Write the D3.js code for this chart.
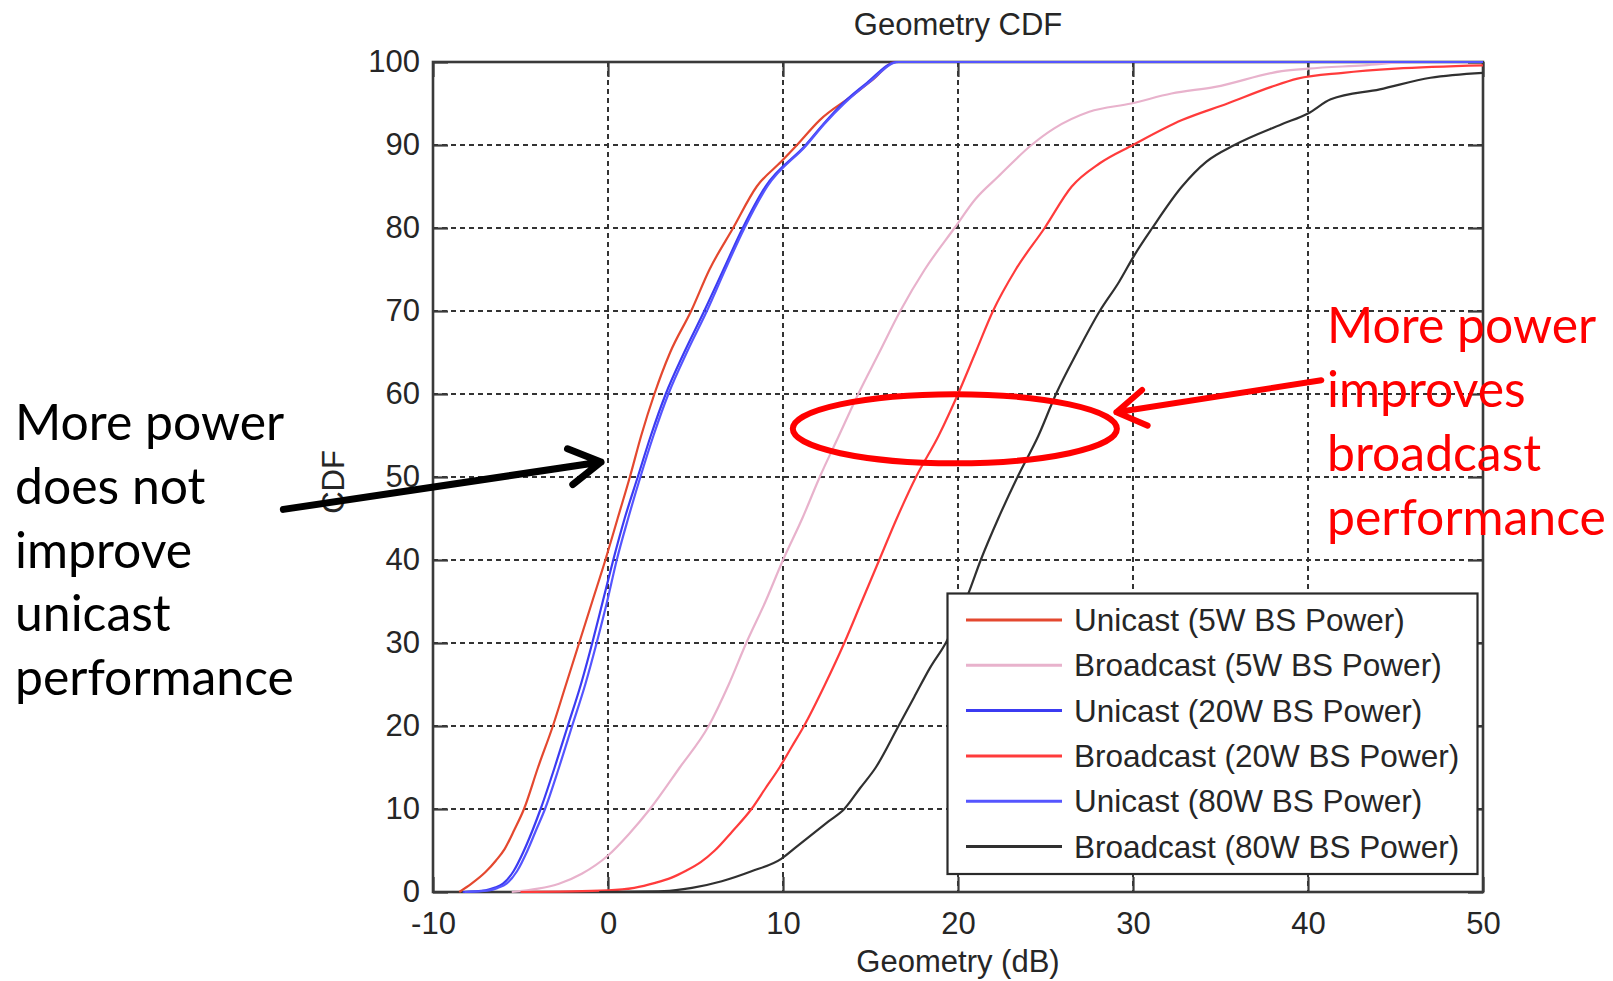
<!DOCTYPE html>
<html><head><meta charset="utf-8">
<script src="https://cdn.jsdelivr.net/npm/d3@7"></script>
<style>
html,body{margin:0;padding:0;background:#fff;}
svg{display:block;}
</style></head>
<body>
<svg id="chart" width="1613" height="981"></svg>
<script>
// ---------------- DATA ----------------
const xTicks = [-10, 0, 10, 20, 30, 40, 50];
const yTicks = [0, 10, 20, 30, 40, 50, 60, 70, 80, 90, 100];
const seriesNames = [
  "Unicast (5W BS Power)",
  "Broadcast (5W BS Power)",
  "Unicast (20W BS Power)",
  "Broadcast (20W BS Power)",
  "Unicast (80W BS Power)",
  "Broadcast (80W BS Power)"
];
// [Geometry dB, CDF %]
const unicast5W = [[-8.5,0],[-7.8,1],[-7.0,2.4],[-6.4,3.8],[-5.9,5.2],[-5.35,7.5],[-4.8,10],[-4.0,15],[-3.15,20],[-2.4,25],[-1.65,30],[-0.9,35],[-0.15,40],[0.55,45],[1.25,50],[1.9,55],[2.65,60],[3.55,65],[4.75,70],[5.8,75],[7.15,80],[8.5,85],[9.9,88],[10.8,90],[12.1,93],[14.0,96],[15.2,98],[16.4,100],[50,100]];
const broadcast5W = [[-5.5,0],[-4,0.4],[-2.8,1],[-1.5,2.2],[0,4.4],[1.2,7],[2.4,10],[4.1,15],[5.75,20],[6.9,25],[7.9,30],[9.0,35],[10.0,40],[11.1,45],[12.1,50],[13.2,55],[14.3,60],[15.5,65],[16.7,70],[18.1,75],[19.8,80],[21.0,83.5],[22.3,86.2],[24.2,90],[25.5,92],[27.5,94],[29.9,95],[32.2,96.2],[34.7,97],[38.5,98.9],[40,99.2],[43.2,99.6],[46,100],[50,100]];
const unicast20W = [[-8.3,0],[-7.0,0.2],[-6.5,0.5],[-6.0,1],[-5.4,2.5],[-4.8,5],[-4.3,7.5],[-3.85,10],[-3.05,15],[-2.3,20],[-1.55,25],[-0.9,30],[-0.3,35],[0.3,40],[0.95,45],[1.7,50],[2.45,55],[3.3,60],[4.35,65],[5.5,70],[6.6,75],[7.7,80],[9.0,85],[11.3,90],[12.3,92.5],[13.4,95],[14.8,97.5],[16.5,100],[50,100]];
const broadcast20W = [[-5,0],[0,0.2],[1.5,0.5],[2.7,1.1],[3.6,1.7],[4.4,2.5],[5.3,3.6],[6.1,5],[7.1,7.3],[8.2,10],[9.0,12.5],[9.8,15],[10.5,17.5],[11.2,20],[12.4,25],[13.5,30],[14.5,35],[15.5,40],[16.5,45],[17.6,50],[18.9,55],[20.0,60],[21.0,65],[22.0,70],[23.3,75],[24.95,80],[26.5,85],[28.1,87.8],[30,90],[32.8,93],[35.4,95],[37.9,97],[39.4,98],[42,98.7],[45,99.2],[50,99.6]];
const unicast80W = [[-8.2,0],[-6.8,0.2],[-6.3,0.5],[-5.8,1],[-5.2,2.5],[-4.6,5],[-4.1,7.5],[-3.6,10],[-2.8,15],[-2.05,20],[-1.3,25],[-0.65,30],[-0.05,35],[0.5,40],[1.15,45],[1.85,50],[2.6,55],[3.45,60],[4.5,65],[5.65,70],[6.7,75],[7.8,80],[9.1,85],[11.35,90],[12.35,92.5],[13.5,95],[14.9,97.5],[16.6,100],[50,100]];
const broadcast80W = [[-0.5,0],[3.2,0.1],[4.8,0.5],[6.5,1.3],[8.2,2.5],[9.9,4],[10.8,5.5],[11.7,7],[12.6,8.5],[13.5,10],[14.4,12.5],[15.3,15],[16.6,20],[17.5,23.5],[18.4,27],[19.3,30],[20.0,33],[20.6,36],[21.3,40],[22.3,45],[23.4,50],[24.6,55],[25.6,60],[26.8,65],[28.1,70],[29.2,73.5],[30.1,76.8],[31.1,80],[32.8,85],[34.2,88],[35.8,90],[38.5,92.5],[40,93.8],[41.3,95.5],[44.1,96.7],[47,98.1],[50,98.7]];
const seriesData = [unicast5W, broadcast5W, unicast20W, broadcast20W, unicast80W, broadcast80W];
const seriesColors = ["#e4482f", "#e8b2cc", "#3b3bf2", "#ff3b3b", "#5555ff", "#303030"];

const titleText = "Geometry CDF";
const xLabelText = "Geometry (dB)";
const yLabelText = "CDF";
const leftNote = ["More power", "does not", "improve", "unicast", "performance"];
const rightNote = ["More power", "improves", "broadcast", "performance"];

// ---------------- LAYOUT ----------------
const svg = d3.select("#chart");
const plot = {left: 433, right: 1483, top: 62, bottom: 892};
const x = d3.scaleLinear().domain([-10, 50]).range([plot.left, plot.right]);
const y = d3.scaleLinear().domain([0, 100]).range([plot.bottom, plot.top]);
const axisFont = "'Liberation Sans', Arial, Helvetica, sans-serif";
const textCol = "#262626";
const fs = 31;

svg.append("rect").attr("width", 1613).attr("height", 981).attr("fill", "#fff");

// grid
const grid = svg.append("g");
grid.selectAll("line.gx").data(xTicks.slice(1, -1)).enter().append("line")
  .attr("x1", d => x(d)).attr("x2", d => x(d))
  .attr("y1", plot.top).attr("y2", plot.bottom)
  .attr("stroke", "#333").attr("stroke-width", 2).attr("stroke-dasharray", "5,4");
grid.selectAll("line.gy").data(yTicks.slice(1, -1)).enter().append("line")
  .attr("y1", d => y(d)).attr("y2", d => y(d))
  .attr("x1", plot.left).attr("x2", plot.right)
  .attr("stroke", "#333").attr("stroke-width", 2).attr("stroke-dasharray", "5,4");

// axes
const tickLen = 15;
const fmt = d => String(d);
function styleAxis(g) {
  g.select(".domain").remove();
  g.selectAll(".tick line").attr("stroke", "#3a3a3a").attr("stroke-width", 2.2);
  g.selectAll(".tick text").attr("fill", textCol).style("font-family", axisFont).style("font-size", fs + "px");
}
svg.append("g").attr("transform", `translate(0,${plot.bottom})`)
  .call(d3.axisBottom(x).tickValues(xTicks).tickSizeInner(-tickLen).tickSizeOuter(0).tickPadding(20).tickFormat(fmt))
  .call(styleAxis);
svg.append("g").attr("transform", `translate(${plot.left},0)`)
  .call(d3.axisLeft(y).tickValues(yTicks).tickSizeInner(-tickLen).tickSizeOuter(0).tickPadding(13).tickFormat(fmt))
  .call(styleAxis)
  .call(g => g.selectAll(".tick text").attr("dy", "0.3em"));
svg.append("g").attr("transform", `translate(0,${plot.top})`)
  .call(d3.axisTop(x).tickValues(xTicks).tickSizeInner(-tickLen).tickSizeOuter(0).tickFormat(""))
  .call(styleAxis);
svg.append("g").attr("transform", `translate(${plot.right},0)`)
  .call(d3.axisRight(y).tickValues(yTicks).tickSizeInner(-tickLen).tickSizeOuter(0).tickFormat(""))
  .call(styleAxis);

svg.append("rect").attr("x", plot.left).attr("y", plot.top)
  .attr("width", plot.right - plot.left).attr("height", plot.bottom - plot.top)
  .attr("fill", "none").attr("stroke", "#3a3a3a").attr("stroke-width", 2.6);

// curves
const line = d3.line().x(d => x(d[0])).y(d => y(d[1])).curve(d3.curveMonotoneX);
svg.append("g").selectAll("path").data(seriesData).enter().append("path")
  .attr("d", d => line(d)).attr("fill", "none")
  .attr("stroke", (d, i) => seriesColors[i]).attr("stroke-width", 2.2)
  .attr("stroke-linejoin", "round");

// title / labels
svg.append("text").attr("x", (plot.left + plot.right) / 2).attr("y", 35)
  .attr("text-anchor", "middle").attr("fill", textCol)
  .style("font-family", axisFont).style("font-size", fs + "px").text(titleText);
svg.append("text").attr("x", (plot.left + plot.right) / 2).attr("y", 972)
  .attr("text-anchor", "middle").attr("fill", textCol)
  .style("font-family", axisFont).style("font-size", fs + "px").text(xLabelText);
svg.append("text").attr("transform", "translate(344,482) rotate(-90)")
  .attr("text-anchor", "middle").attr("fill", textCol)
  .style("font-family", axisFont).style("font-size", fs + "px").text(yLabelText);

// legend
const leg = {x: 947.5, y: 593.5, w: 530, h: 280.5, row0: 620, pitch: 45.3};
svg.append("rect").attr("x", leg.x).attr("y", leg.y).attr("width", leg.w).attr("height", leg.h)
  .attr("fill", "#fff").attr("stroke", "#2a2a2a").attr("stroke-width", 2.2);
const lg = svg.append("g");
seriesNames.forEach((name, i) => {
  const cy = leg.row0 + i * leg.pitch;
  lg.append("line").attr("x1", 966).attr("x2", 1062).attr("y1", cy).attr("y2", cy)
    .attr("stroke", seriesColors[i]).attr("stroke-width", 3);
  lg.append("text").attr("x", 1074).attr("y", cy + 11).attr("fill", textCol)
    .style("font-family", axisFont).style("font-size", "31.5px").text(name);
});

// annotations
const noteFont = "Lato, 'Open Sans', 'Noto Sans', sans-serif";
const probe = svg.append("text").style("font-family", noteFont).style("font-size", "100px").text("performance");
const noteSize = 100 * 279 / probe.node().getComputedTextLength();
probe.remove();

const leftG = svg.append("g");
leftNote.forEach((t, i) => {
  leftG.append("text").attr("x", 15).attr("y", 440 + i * 63.8).attr("fill", "#000")
    .style("font-family", noteFont).style("font-size", noteSize + "px").text(t);
});
const rightG = svg.append("g");
rightNote.forEach((t, i) => {
  rightG.append("text").attr("x", 1327).attr("y", 343 + i * 64).attr("fill", "#ff0000")
    .style("font-family", noteFont).style("font-size", noteSize + "px").text(t);
});

// ellipse (data-space anchor)
const ell = {cx: 19.82, cy: 55.81, rx: 9.26, ry: 4.16};
svg.append("ellipse")
  .attr("cx", x(ell.cx)).attr("cy", y(ell.cy))
  .attr("rx", x(ell.cx + ell.rx) - x(ell.cx)).attr("ry", y(ell.cy) - y(ell.cy + ell.ry))
  .attr("fill", "none").attr("stroke", "#ff0000").attr("stroke-width", 6);

function arrow(tail, tip, color, width, headLen, headDeg) {
  const x0 = x(tail[0]), y0 = y(tail[1]), x1 = x(tip[0]), y1 = y(tip[1]);
  const a = Math.atan2(y1 - y0, x1 - x0), h = headDeg * Math.PI / 180;
  const w1 = [x1 - headLen * Math.cos(a - h), y1 - headLen * Math.sin(a - h)];
  const w2 = [x1 - headLen * Math.cos(a + h), y1 - headLen * Math.sin(a + h)];
  svg.append("path")
    .attr("d", `M${x0},${y0}L${x1},${y1}M${w1[0]},${w1[1]}L${x1},${y1}L${w2[0]},${w2[1]}`)
    .attr("fill", "none").attr("stroke", color).attr("stroke-width", width)
    .attr("stroke-linecap", "round").attr("stroke-linejoin", "round");
}
arrow([-18.55, 46.1], [-0.4, 51.8], "#000", 7, 36, 30);
arrow([40.76, 61.65], [29.05, 57.8], "#ff0000", 6, 34, 32);
</script>
</body></html>
